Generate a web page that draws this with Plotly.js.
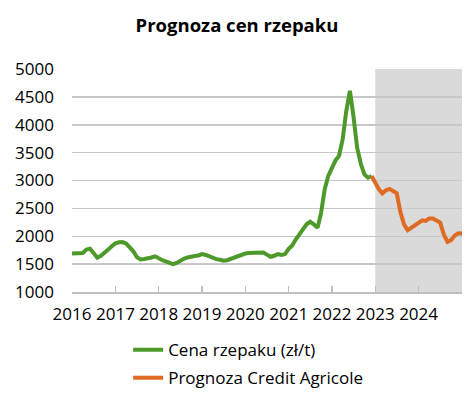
<!DOCTYPE html>
<html>
<head>
<meta charset="utf-8">
<script src="https://cdn.plot.ly/plotly-3.0.1.min.js"></script>
<style>html,body{margin:0;padding:0;background:#fff}#chart{width:474px;height:393px}</style>
</head>
<body>
<div id="chart"></div>
<script>
// Monthly price of rapeseed (zł/t), Jan 2016 - Dec 2022
const priceStart = '2016-01-01';
const price = [
  1690, 1698, 1690, 1700, 1760, 1775, 1700, 1615, 1650, 1695, 1760, 1820,
  1872, 1893, 1895, 1870, 1810, 1730, 1625, 1585, 1592, 1600, 1620, 1640,
  1595, 1570, 1550, 1515, 1500, 1520, 1560, 1595, 1620, 1640, 1645, 1655,
  1680, 1665, 1640, 1605, 1590, 1578, 1560, 1570, 1595, 1625, 1645, 1668,
  1690, 1698, 1700, 1703, 1713, 1708, 1670, 1632, 1650, 1680, 1665, 1680,
  1775, 1840, 1940, 2050, 2125, 2215, 2260, 2215, 2150, 2420, 2850, 3085,
  3230, 3365, 3440, 3740, 4240, 4610, 4150, 3590, 3300, 3110, 3050, 3080
];
// Credit Agricole forecast, Dec 2022 - Jan 2025
const forecastStart = '2022-12-01';
const forecast = [
  3080,
  2960, 2840, 2770, 2826, 2850, 2800, 2770, 2430, 2210, 2110, 2150, 2200,
  2240, 2285, 2275, 2320, 2320, 2290, 2245, 2030, 1900, 1930, 2015, 2055,
  2050
];
const yearTicks = ['2016-01-01','2017-01-01','2018-01-01','2019-01-01','2020-01-01',
  '2021-01-01','2022-01-01','2023-01-01','2024-01-01','2025-01-01'];
const yearLabels = ['2016','2017','2018','2019','2020','2021','2022','2023','2024',''];
const forecastPeriod = ['2023-01-01', '2025-01-01'];
const seriesNames = ['Cena rzepaku (zł/t)', 'Prognoza Credit Agricole'];

function monthDates(start, n) {
  const [y, m] = start.split('-').map(Number);
  const out = [];
  for (let i = 0; i < n; i++) {
    const t = (m - 1) + i;
    const yy = y + Math.floor(t / 12), mm = (t % 12) + 1;
    out.push(yy + '-' + String(mm).padStart(2, '0') + '-01');
  }
  return out;
}

const font = 'Open Sans, sans-serif';
const traces = [
  {x: monthDates(priceStart, price.length), y: price, name: seriesNames[0], legendgroup: 'a',
   type: 'scatter', mode: 'lines', line: {color: '#4d9a2b', width: 4}},
  {x: monthDates(forecastStart, forecast.length), y: forecast, name: seriesNames[1], legendgroup: 'b',
   type: 'scatter', mode: 'lines', line: {color: '#df6a22', width: 4}}
];
const layout = {
  width: 474, height: 393,
  margin: {l: 72, r: 12, t: 69, b: 101},
  paper_bgcolor: '#fff', plot_bgcolor: '#fff',
  font: {family: font, size: 16, color: '#000'},
  title: {text: '<b>Prognoza cen rzepaku</b>', font: {family: font, size: 18.5, color: '#000'},
          x: 0.5, xanchor: 'center', y: 0.935, yanchor: 'middle'},
  showlegend: true,
  legend: {orientation: 'v', xref: 'paper', x: 0.144, xanchor: 'left',
           yref: 'container', y: 0.155, yanchor: 'top',
           font: {family: font, size: 17}, traceorder: 'grouped', tracegroupgap: 3,
           borderwidth: 0, bgcolor: 'rgba(0,0,0,0)'},
  xaxis: {type: 'date', range: ['2016-01-01', '2025-01-01'], tickmode: 'array',
          tickvals: yearTicks, ticktext: yearLabels, showgrid: false,
          showline: true, linecolor: '#bfbfbf', linewidth: 1.5,
          ticks: 'inside', ticklen: 6, tickcolor: '#bfbfbf', tickwidth: 1.5,
          ticklabelstandoff: 6,
          tickfont: {family: font, size: 17}, fixedrange: true, zeroline: false},
  yaxis: {range: [1000, 5000], dtick: 500, tick0: 1000, showgrid: true,
          gridcolor: '#c8c8c8', gridwidth: 1.5, showline: false, zeroline: false,
          ticks: '', ticklabelstandoff: 17,
          tickfont: {family: font, size: 17}, fixedrange: true},
  shapes: [{type: 'rect', xref: 'x', yref: 'y', x0: forecastPeriod[0], x1: forecastPeriod[1],
            y0: 1000, y1: 5000, fillcolor: '#dadada', line: {width: 0}, layer: 'below'}]
};
Plotly.newPlot('chart', traces, layout, {displayModeBar: false, staticPlot: true});
</script>
</body>
</html>
